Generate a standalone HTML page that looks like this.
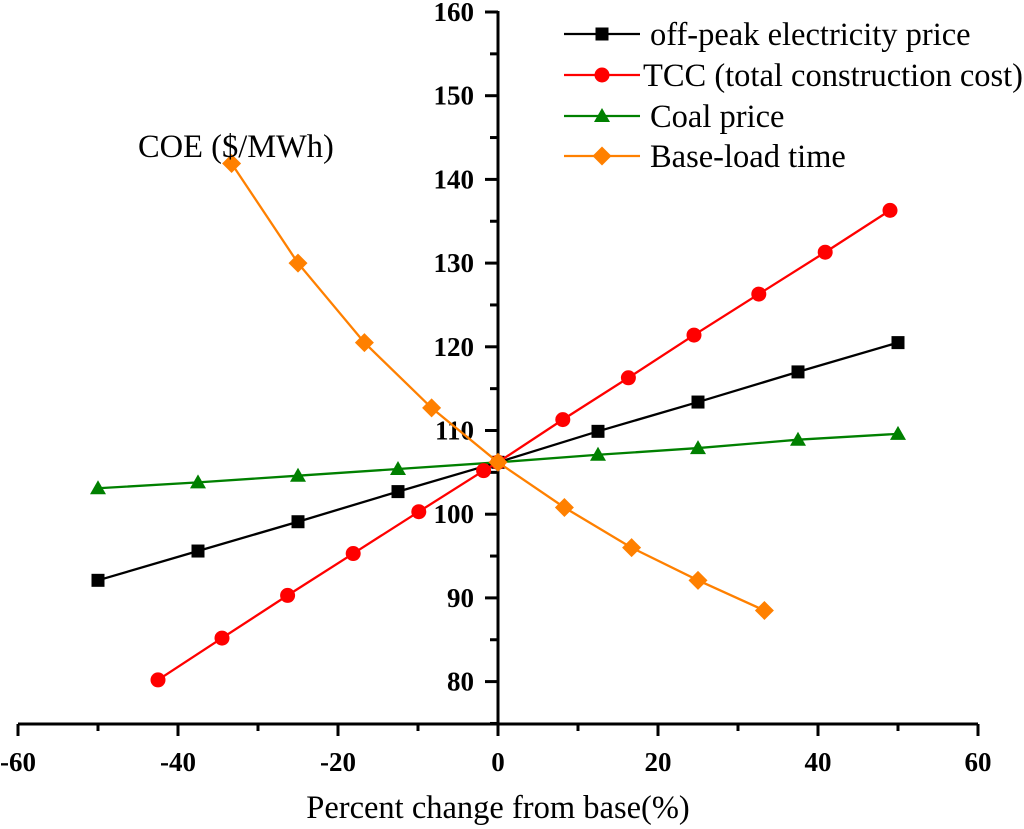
<!DOCTYPE html>
<html><head><meta charset="utf-8"><style>
html,body{margin:0;padding:0;background:#fff;}
svg{display:block;}
.tk{font-family:"Liberation Serif",serif;font-weight:bold;font-size:27px;fill:#000;}
.lg{font-family:"Liberation Serif",serif;font-size:32.5px;fill:#000;}
</style></head><body>
<svg id="chart" width="1024" height="829" viewBox="0 0 1024 829"></svg>
<script>
const xTicks=[-60,-40,-20,0,20,40,60];
const yTicks=[80,90,100,110,120,130,140,150,160];
const offPeakX=[-50,-37.5,-25,-12.5,0,12.5,25,37.5,50];
const offPeakY=[92.1,95.6,99.1,102.7,106.2,109.9,113.4,117.0,120.5];
const tccX=[-42.5,-34.5,-26.3,-18.1,-9.9,-1.8,0,8.1,16.3,24.5,32.6,40.9,49];
const tccY=[80.2,85.2,90.3,95.3,100.3,105.2,106.2,111.3,116.3,121.4,126.3,131.3,136.3];
const coalX=[-50,-37.5,-25,-12.5,0,12.5,25,37.5,50];
const coalY=[103.1,103.8,104.6,105.4,106.2,107.1,107.9,108.9,109.6];
const baseX=[-33.3,-25,-16.7,-8.3,0,8.3,16.7,25,33.3];
const baseY=[141.9,130.0,120.5,112.7,106.2,100.8,96.0,92.1,88.5];

const NS="http://www.w3.org/2000/svg";
const svg=document.getElementById('chart');
function X(v){return 498+v*8;}
function Y(v){return 12+(160-v)*8.37;}
const axisY=724;
function mk(tag,attrs,parent){const e=document.createElementNS(NS,tag);for(const k in attrs)e.setAttribute(k,attrs[k]);(parent||svg).appendChild(e);return e;}

let a=mk('line',{x1:18,y1:axisY,x2:978,y2:axisY,stroke:'#000','stroke-width':3});


a=mk('line',{x1:498,y1:11,x2:498,y2:axisY,stroke:'#000','stroke-width':3});



xTicks.forEach((t,i)=>{
  mk('line',{x1:X(t),y1:axisY,x2:X(t),y2:axisY+12,stroke:'#000','stroke-width':3});
  if(i<xTicks.length-1){const m=(t+xTicks[i+1])/2;mk('line',{x1:X(m),y1:axisY,x2:X(m),y2:axisY+7,stroke:'#000','stroke-width':3});}
  const tx=mk('text',{x:X(t),y:771,'text-anchor':'middle',class:'tk'});tx.textContent=t;
  
  
});
yTicks.forEach((t,i)=>{
  mk('line',{x1:498,y1:Y(t),x2:485,y2:Y(t),stroke:'#000','stroke-width':3});
  if(i<yTicks.length-1){const m=(t+yTicks[i+1])/2;mk('line',{x1:498,y1:Y(m),x2:490,y2:Y(m),stroke:'#000','stroke-width':3});}
  const tx=mk('text',{x:474,y:Y(t)+9,'text-anchor':'end',class:'tk'});tx.textContent=t;
  
  
});
mk('line',{x1:498,y1:Y(75),x2:490,y2:Y(75),stroke:'#000','stroke-width':3});

function marker(type,cx,cy,color,g){
  if(type==='sq')return mk('rect',{x:cx-6.5,y:cy-6.5,width:13,height:13,fill:color},g);
  if(type==='ci')return mk('circle',{cx:cx,cy:cy,r:7.5,fill:color},g);
  if(type==='tr')return mk('polygon',{points:`${cx},${cy-8} ${cx+8},${cy+6} ${cx-8},${cy+6}`,fill:color},g);
  return mk('polygon',{points:`${cx},${cy-9.5} ${cx+9.5},${cy} ${cx},${cy+9.5} ${cx-9.5},${cy}`,fill:color},g);
}
function series(name,xs,ys,color,type){
  const g=mk('g',{});
  
  
  mk('polyline',{points:xs.map((x,i)=>X(x)+','+Y(ys[i])).join(' '),fill:'none',stroke:color,'stroke-width':2.3},g);
  xs.forEach((x,i)=>{const m=marker(type,X(x),Y(ys[i]),color,g);
    
    });
}
series('coal-price-series',coalX,coalY,'#008000','tr');
series('off-peak-series',offPeakX,offPeakY,'#000000','sq');
series('tcc-series',tccX,tccY,'#ff0000','ci');
series('base-load-series',baseX,baseY,'#ff8000','di');

const legend=[['off-peak electricity price','#000000','sq',34,650],['TCC (total construction cost)','#ff0000','ci',75,643],['Coal price','#008000','tr',116,650],['Base-load time','#ff8000','di',156,650]];
legend.forEach(l=>{
  const g=mk('g',{});
  
  
  mk('line',{x1:564,y1:l[3],x2:640,y2:l[3],stroke:l[1],'stroke-width':2.3},g);
  marker(l[2],602,l[3],l[1],g);
  const t=mk('text',{x:l[4],y:l[3]+11,class:'lg'},g);t.textContent=l[0];
});
let t=mk('text',{x:138,y:157,class:'lg'});t.textContent='COE ($/MWh)';


t=mk('text',{x:498,y:818,'text-anchor':'middle',class:'lg'});t.textContent='Percent change from base(%)';


</script>
</body></html>
